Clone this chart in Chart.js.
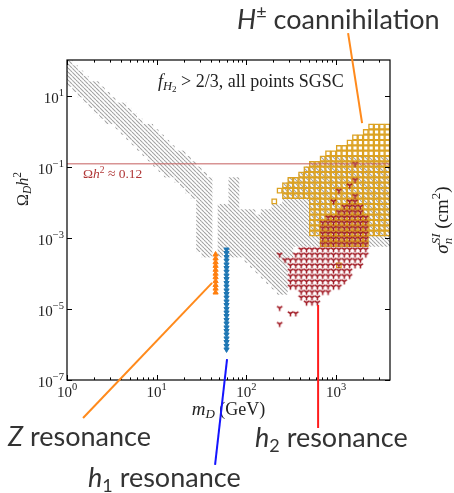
<!DOCTYPE html>
<html>
<head>
<meta charset="utf-8">
<script src="https://cdn.jsdelivr.net/npm/chart.js@4.4.1/dist/chart.umd.min.js"></script>
<style>
  html, body { margin: 0; padding: 0; background: #fff; }
</style>
</head>
<body>
<canvas id="c" width="454" height="493"></canvas>
<script>
// axis ranges
const mRange = [1, 10 ** 3.6];        // m_D in GeV
const omegaRange = [1e-7, 1e2];       // Omega_D h^2
const relicOmega = 0.12;

// scan is binned on a log grid: 0.06 dex in m_D, 0.15 dex in Omega h^2 (from 1e-7)
const binLogM = 0.06;
const binLogOmega = 0.15;
const logOmegaStart = -7;

// [column, firstRow, lastRow] of occupied bins
const allPointsCells = [
  [0, 55, 59], [1, 54, 58], [2, 53, 57], [3, 52, 56], [4, 51, 55], [5, 50, 55],
  [6, 49, 54], [7, 48, 53], [8, 48, 52], [9, 47, 51], [10, 46, 51], [11, 45, 50],
  [12, 44, 49], [13, 43, 48], [14, 42, 47], [15, 41, 47], [16, 40, 46], [17, 39, 45],
  [18, 38, 44], [19, 38, 43], [20, 37, 42], [21, 36, 42], [22, 35, 41], [23, 34, 40],
  [24, 24, 39], [25, 23, 38], [26, 23, 37],
  [28, 23, 32], [29, 24, 32], [30, 23, 37], [31, 23, 37], [32, 23, 31], [33, 22, 31],
  [34, 21, 31], [35, 20, 30], [36, 19, 31], [37, 18, 31], [38, 17, 32], [39, 16, 32],
  [40, 16, 36], [41, 23, 37], [42, 25, 37], [43, 25, 38], [44, 25, 39], [45, 25, 40],
  [46, 25, 40], [47, 25, 41], [48, 25, 41], [49, 25, 41], [50, 25, 41], [51, 25, 41],
  [52, 25, 41], [53, 25, 41], [54, 25, 41], [55, 25, 41], [56, 25, 41], [57, 25, 41],
  [58, 25, 41], [59, 25, 41]
];

const chargedCells = [
  [38, 33, 33], [39, 35, 35], [40, 34, 36], [41, 34, 37], [42, 34, 37], [43, 34, 38],
  [44, 34, 39], [45, 27, 40], [46, 27, 40], [47, 25, 41], [48, 25, 42], [49, 25, 42],
  [50, 25, 43], [50, 21, 21], [51, 25, 43], [52, 25, 44], [53, 25, 45], [54, 25, 45],
  [55, 25, 46], [56, 27, 47], [57, 27, 47], [58, 27, 47], [59, 27, 47]
];

const h2Cells = [
  [39, 10, 10], [39, 13, 13], [39, 23, 23], [40, 22, 22], [41, 12, 12], [42, 12, 12],
  [41, 17, 22], [42, 17, 23], [43, 15, 24], [44, 14, 24], [45, 14, 24], [46, 14, 24],
  [47, 16, 29], [48, 16, 30], [49, 17, 30], [49, 33, 33], [50, 17, 31], [50, 35, 35],
  [51, 18, 32], [52, 19, 33], [52, 36, 36], [53, 21, 34], [53, 37, 37], [53, 40, 40],
  [54, 21, 32], [55, 23, 30]
];

// resonance columns: mass (GeV) and log10 Omega h^2 of each point
const zMass = 45.3;
const zOmegaExp = [-3.47, -3.58, -3.69, -3.79, -3.90, -4.01, -4.11, -4.22, -4.33, -4.43, -4.54];
const h1Mass = 60;
const h1OmegaExp = [-3.33, -3.43, -3.54, -3.64, -3.75, -3.85, -3.95, -4.06, -4.16, -4.27,
  -4.37, -4.48, -4.58, -4.68, -4.79, -4.89, -5.00, -5.10, -5.20, -5.31, -5.41, -5.52,
  -5.62, -5.72, -5.83, -5.93, -6.04, -6.14];

const SERIF = '"Liberation Serif", "DejaVu Serif", serif';
const SANS = 'Lato, "Open Sans", sans-serif';

function cellsToPoints(ranges) {
  const pts = [];
  ranges.forEach(([c, lo, hi]) => {
    for (let r = lo; r <= hi; r++) {
      pts.push({
        x: 10 ** ((c + 0.5) * binLogM),
        y: 10 ** (logOmegaStart + (r + 0.5) * binLogOmega)
      });
    }
  });
  return pts;
}

function hatchPattern() {
  const p = 4;
  const c = document.createElement('canvas');
  c.width = c.height = p;
  const g = c.getContext('2d');
  g.strokeStyle = '#a2a2a2';
  g.lineWidth = 1.05;
  for (let k = -1; k <= 1; k++) {
    g.beginPath();
    g.moveTo(k * p, 0);
    g.lineTo(k * p + p, p);
    g.stroke();
  }
  return g.createPattern(c, 'repeat');
}

// matplotlib-style "tri_down" marker
function triDown(color) {
  const s = 9;
  const c = document.createElement('canvas');
  c.width = c.height = s;
  const g = c.getContext('2d');
  const m = s / 2, L = 3.1;
  g.strokeStyle = color;
  g.lineWidth = 1.55;
  g.beginPath();
  g.moveTo(m, m); g.lineTo(m, m + L);
  g.moveTo(m, m); g.lineTo(m - L * 0.866, m - L * 0.5);
  g.moveTo(m, m); g.lineTo(m + L * 0.866, m - L * 0.5);
  g.stroke();
  return c;
}

// text with sub/superscripts: segments {t, f, dy, adv}
function rich(ctx, segs, x, y, align, color) {
  let w = 0;
  segs.forEach(s => { ctx.font = s.f; s.w = ctx.measureText(s.t).width; if (s.adv !== false) w += s.w; });
  let cx = align === 'center' ? x - w / 2 : align === 'right' ? x - w : x;
  ctx.fillStyle = color || '#222';
  ctx.textAlign = 'left';
  ctx.textBaseline = 'alphabetic';
  segs.forEach(s => {
    ctx.font = s.f;
    ctx.fillText(s.t, cx, y + (s.dy || 0));
    if (s.adv !== false) cx += s.w;
  });
}

const decorations = {
  id: 'decorations',
  afterDraw(chart) {
    const { ctx, chartArea: a, scales: { x, y } } = chart;
    ctx.save();

    // frame
    ctx.strokeStyle = '#000';
    ctx.lineWidth = 1.2;
    ctx.strokeRect(a.left, a.top, a.right - a.left, a.bottom - a.top);

    // inward ticks, mirrored on all sides
    ctx.lineWidth = 1;
    ctx.beginPath();
    for (let d = 0; d <= 3; d++) {
      for (let k = 1; k <= 9; k++) {
        const v = k * 10 ** d;
        if (v > mRange[1]) break;
        const px = Math.round(x.getPixelForValue(v)) + 0.5;
        const len = k === 1 ? 5 : 2.6;
        ctx.moveTo(px, a.bottom); ctx.lineTo(px, a.bottom - len);
        ctx.moveTo(px, a.top); ctx.lineTo(px, a.top + len);
      }
    }
    const yMajors = [-7, -5, -3, -1, 1];
    yMajors.forEach(e => {
      const py = Math.round(y.getPixelForValue(10 ** e)) + 0.5;
      ctx.moveTo(a.left, py); ctx.lineTo(a.left + 5, py);
      ctx.moveTo(a.right, py); ctx.lineTo(a.right - 5, py);
    });
    ctx.stroke();

    // tick labels
    const big = `15px ${SERIF}`, small = `10.5px ${SERIF}`;
    [0, 1, 2, 3].forEach(e => {
      rich(ctx, [{ t: '10', f: big }, { t: String(e), f: small, dy: -7 }],
        x.getPixelForValue(10 ** e), a.bottom + 17, 'center');
    });
    yMajors.forEach(e => {
      const lab = e < 0 ? '\u2212' + (-e) : String(e);
      rich(ctx, [{ t: '10', f: big }, { t: lab, f: small, dy: -7 }],
        a.left - 3, y.getPixelForValue(10 ** e) + 7, 'right');
    });

    // axis titles
    rich(ctx, [
      { t: 'm', f: `italic 19px ${SERIF}` },
      { t: 'D', f: `italic 13px ${SERIF}`, dy: 3 },
      { t: ' (GeV)', f: `18px ${SERIF}` }
    ], (a.left + a.right) / 2, 415, 'center');

    ctx.save();
    ctx.translate(28, 189);
    ctx.rotate(-Math.PI / 2);
    rich(ctx, [
      { t: '\u03A9', f: `16px ${SERIF}` },
      { t: 'D', f: `italic 11.5px ${SERIF}`, dy: 3 },
      { t: 'h', f: `italic 16px ${SERIF}` },
      { t: '2', f: `11.5px ${SERIF}`, dy: -7 }
    ], 0, 0, 'center');
    ctx.restore();

    ctx.save();
    ctx.translate(448, 220);
    ctx.rotate(-Math.PI / 2);
    rich(ctx, [
      { t: '\u03C3', f: `italic 19px ${SERIF}` },
      { t: 'n', f: `italic 13px ${SERIF}`, dy: 4, adv: false },
      { t: 'SI', f: `italic 13px ${SERIF}`, dy: -8 },
      { t: ' (cm', f: `19px ${SERIF}` },
      { t: '2', f: `13px ${SERIF}`, dy: -8 },
      { t: ')', f: `19px ${SERIF}` }
    ], 0, 0, 'center');
    ctx.restore();

    // in-plot notes
    rich(ctx, [
      { t: 'f', f: `italic 18px ${SERIF}` },
      { t: 'H', f: `italic 12.5px ${SERIF}`, dy: 3 },
      { t: '2', f: `9px ${SERIF}`, dy: 5 },
      { t: ' > 2/3, all points SGSC', f: `18px ${SERIF}` }
    ], 158, 87, 'left');
    rich(ctx, [
      { t: '\u03A9', f: `13.5px ${SERIF}` },
      { t: 'h', f: `italic 13.5px ${SERIF}` },
      { t: '2', f: `9.5px ${SERIF}`, dy: -5 },
      { t: ' \u2248 0.12', f: `13.5px ${SERIF}` }
    ], 83, 178, 'left', '#b03636');

    // pointer lines to each region
    const pointers = [
      { from: [41.4, -4.27], to: [1.51, -8.07], color: '#ff8a1c' },
      { from: [60.8, -6.41], to: [44.7, -9.39], color: '#1414ff' },
      { from: [629, -4.89], to: [629, -8.35], color: '#ff1c1c' },
      { from: [1945, 0.227], to: [1358, 2.758], color: '#ff8a1c' }
    ];
    ctx.lineWidth = 2;
    pointers.forEach(p => {
      ctx.strokeStyle = p.color;
      ctx.beginPath();
      ctx.moveTo(x.getPixelForValue(p.from[0]), y.getPixelForValue(10 ** p.from[1]));
      ctx.lineTo(x.getPixelForValue(p.to[0]), y.getPixelForValue(10 ** p.to[1]));
      ctx.stroke();
    });

    const lab = `27px ${SANS}`, labIt = `italic 27px ${SANS}`, labSm = `18px ${SANS}`;
    rich(ctx, [{ t: 'H', f: labIt }, { t: '\u00B1', f: labSm, dy: -11 }, { t: ' coannihilation', f: lab }], 237, 29, 'left', '#333');
    rich(ctx, [{ t: 'Z', f: labIt }, { t: ' resonance', f: lab }], 8, 446, 'left', '#333');
    rich(ctx, [{ t: 'h', f: labIt }, { t: '1', f: labSm, dy: 5 }, { t: ' resonance', f: lab }], 88, 487, 'left', '#333');
    rich(ctx, [{ t: 'h', f: labIt }, { t: '2', f: labSm, dy: 5 }, { t: ' resonance', f: lab }], 255, 447, 'left', '#333');

    ctx.restore();
  }
};

new Chart(document.getElementById('c'), {
  type: 'scatter',
  data: {
    datasets: [
      {
        label: 'Z resonance',
        data: zOmegaExp.map(e => ({ x: zMass, y: 10 ** e })),
        pointStyle: 'triangle', pointRadius: 3,
        backgroundColor: '#ff7f0e', borderColor: '#ff7f0e', borderWidth: 1,
        order: 0
      },
      {
        label: 'h1 resonance',
        data: h1OmegaExp.map(e => ({ x: h1Mass, y: 10 ** e })),
        pointStyle: 'triangle', rotation: 180, pointRadius: 3,
        backgroundColor: '#1f77b4', borderColor: '#1f77b4', borderWidth: 1,
        order: 0
      },
      {
        label: 'relic density',
        type: 'line',
        data: [{ x: mRange[0], y: relicOmega }, { x: mRange[1], y: relicOmega }],
        borderColor: 'rgba(195, 90, 90, 0.65)', borderWidth: 1.5,
        pointRadius: 0,
        order: 1
      },
      {
        label: 'h2 resonance',
        data: cellsToPoints(h2Cells),
        pointStyle: triDown('#a01822'),
        order: 2
      },
      {
        label: 'H+- coannihilation',
        data: cellsToPoints(chargedCells),
        pointStyle: 'rect', pointRadius: 3.15,
        backgroundColor: 'rgba(0,0,0,0)', borderColor: '#dca222', borderWidth: 1.3,
        order: 3
      },
      {
        label: 'all points',
        data: cellsToPoints(allPointsCells),
        pointStyle: 'rect', pointRadius: 3.85,
        backgroundColor: hatchPattern(), borderWidth: 0,
        order: 4
      }
    ]
  },
  options: {
    responsive: false,
    devicePixelRatio: 1,
    animation: false,
    events: [],
    layout: { padding: { left: 67, top: 60, right: 64, bottom: 113 } },
    scales: {
      x: { type: 'logarithmic', min: mRange[0], max: mRange[1], display: false },
      y: { type: 'logarithmic', min: omegaRange[0], max: omegaRange[1], display: false }
    },
    plugins: {
      legend: { display: false },
      tooltip: { enabled: false }
    }
  },
  plugins: [decorations]
});
</script>
</body>
</html>
